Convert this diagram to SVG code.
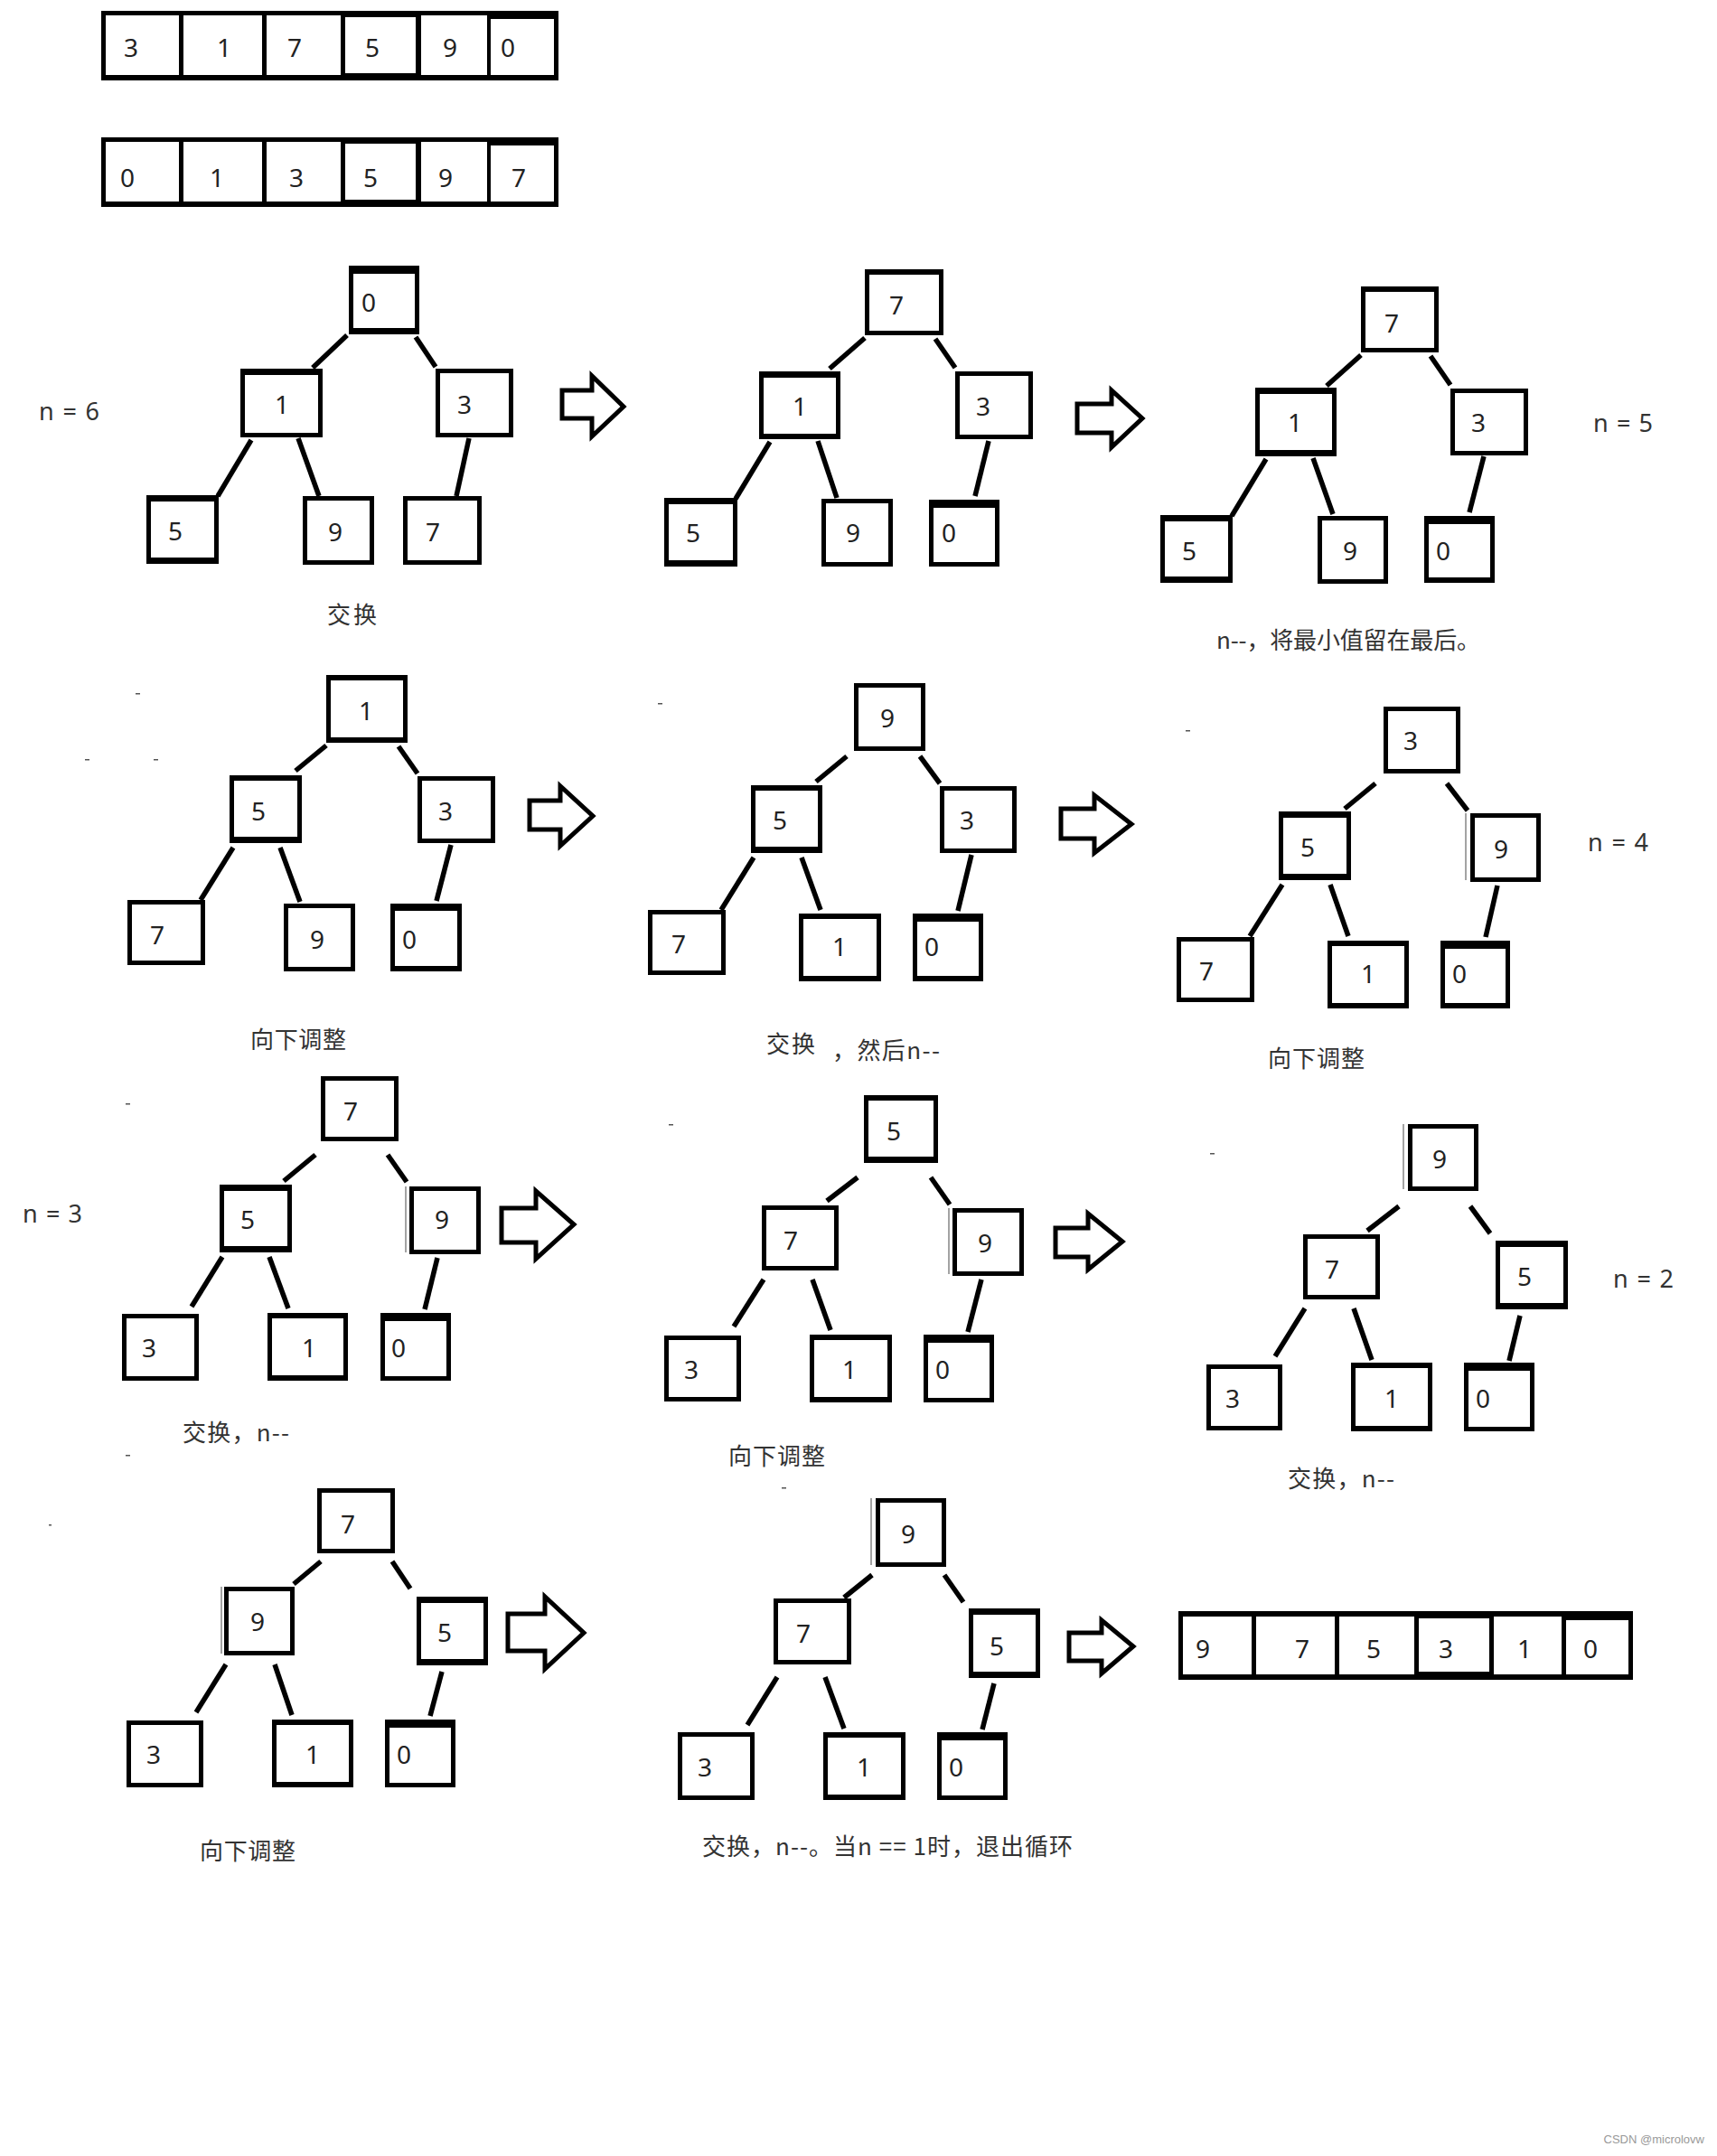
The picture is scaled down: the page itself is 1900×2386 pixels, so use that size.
<svg xmlns="http://www.w3.org/2000/svg" width="1900" height="2386" viewBox="0 0 1900 2386">
<style>
.b{fill:#000}
.w{fill:#fff}
.d{font-family:"Noto Sans","Open Sans",sans-serif;font-size:28px;fill:#222;text-anchor:middle}
.l{font-family:"Noto Sans CJK SC","Noto Sans",sans-serif;font-size:26px;fill:#333}
.n{font-family:"Noto Sans","Open Sans",sans-serif;font-size:27px;fill:#333}
.c line{stroke:#000;stroke-width:5.5}
.ar{fill:#fff;stroke:#000;stroke-width:5;stroke-linejoin:miter}
.h{stroke:#666;stroke-width:1.2}
.m{fill:#555}
</style>
<rect width="1900" height="2386" fill="#fff"/>

<g id="array1">
<rect class="b" x="112" y="12" width="506" height="77"/>
<rect class="w" x="117" y="17" width="81" height="66"/>
<rect class="w" x="203" y="17" width="87" height="66"/>
<rect class="w" x="295" y="17" width="82" height="66"/>
<rect class="w" x="382" y="19" width="78" height="62"/>
<rect class="w" x="466" y="17" width="73" height="66"/>
<rect class="w" x="543" y="21" width="70" height="62"/>
<text class="d" x="145" y="63">3</text><text class="d" x="248" y="63">1</text><text class="d" x="326" y="63">7</text><text class="d" x="412" y="63">5</text><text class="d" x="498" y="63">9</text><text class="d" x="562" y="63">0</text>
</g>
<g id="array2">
<rect class="b" x="112" y="152" width="506" height="77"/>
<rect class="w" x="117" y="157" width="81" height="66"/>
<rect class="w" x="203" y="157" width="87" height="66"/>
<rect class="w" x="295" y="157" width="82" height="66"/>
<rect class="w" x="382" y="159" width="78" height="62"/>
<rect class="w" x="466" y="157" width="73" height="66"/>
<rect class="w" x="543" y="161" width="70" height="62"/>
<text class="d" x="141" y="207">0</text><text class="d" x="240" y="207">1</text><text class="d" x="328" y="207">3</text><text class="d" x="410" y="207">5</text><text class="d" x="493" y="207">9</text><text class="d" x="574" y="207">7</text>
</g>

<g id="connectors" class="c">
<line x1="384" y1="371" x2="346" y2="407"/><line x1="460" y1="373" x2="482" y2="406"/><line x1="278" y1="487" x2="241" y2="549"/><line x1="330" y1="485" x2="353" y2="549"/><line x1="519" y1="485" x2="505" y2="549"/>
<line x1="957" y1="374" x2="918" y2="408"/><line x1="1035" y1="375" x2="1057" y2="407"/><line x1="852" y1="489" x2="814" y2="552"/><line x1="905" y1="488" x2="926" y2="551"/><line x1="1094" y1="488" x2="1079" y2="549"/>
<line x1="1506" y1="393" x2="1468" y2="427"/><line x1="1583" y1="394" x2="1605" y2="426"/><line x1="1401" y1="508" x2="1363" y2="571"/><line x1="1453" y1="507" x2="1475" y2="569"/><line x1="1642" y1="505" x2="1626" y2="567"/>
<line x1="361" y1="825" x2="327" y2="853"/><line x1="441" y1="826" x2="462" y2="856"/><line x1="258" y1="938" x2="222" y2="996"/><line x1="310" y1="938" x2="332" y2="998"/><line x1="499" y1="935" x2="483" y2="997"/>
<line x1="937" y1="837" x2="903" y2="865"/><line x1="1018" y1="837" x2="1040" y2="867"/><line x1="834" y1="949" x2="798" y2="1007"/><line x1="887" y1="949" x2="908" y2="1007"/><line x1="1075" y1="946" x2="1060" y2="1008"/>
<line x1="1522" y1="867" x2="1488" y2="895"/><line x1="1601" y1="867" x2="1624" y2="897"/><line x1="1419" y1="979" x2="1383" y2="1036"/><line x1="1472" y1="979" x2="1492" y2="1036"/><line x1="1657" y1="980" x2="1644" y2="1037"/>
<line x1="349" y1="1278" x2="314" y2="1307"/><line x1="429" y1="1278" x2="450" y2="1308"/><line x1="246" y1="1391" x2="212" y2="1446"/><line x1="298" y1="1391" x2="319" y2="1448"/><line x1="484" y1="1392" x2="470" y2="1449"/>
<line x1="949" y1="1303" x2="915" y2="1329"/><line x1="1030" y1="1303" x2="1051" y2="1333"/><line x1="845" y1="1416" x2="812" y2="1468"/><line x1="899" y1="1416" x2="919" y2="1472"/><line x1="1086" y1="1416" x2="1071" y2="1474"/>
<line x1="1548" y1="1335" x2="1513" y2="1362"/><line x1="1627" y1="1335" x2="1649" y2="1365"/><line x1="1444" y1="1448" x2="1411" y2="1501"/><line x1="1498" y1="1448" x2="1518" y2="1505"/><line x1="1682" y1="1456" x2="1670" y2="1506"/>
<line x1="355" y1="1728" x2="325" y2="1753"/><line x1="434" y1="1728" x2="454" y2="1758"/><line x1="250" y1="1842" x2="217" y2="1895"/><line x1="304" y1="1842" x2="323" y2="1898"/><line x1="489" y1="1850" x2="476" y2="1899"/>
<line x1="965" y1="1743" x2="934" y2="1768"/><line x1="1045" y1="1743" x2="1066" y2="1773"/><line x1="860" y1="1856" x2="827" y2="1909"/><line x1="913" y1="1856" x2="934" y2="1913"/><line x1="1100" y1="1863" x2="1087" y2="1914"/>
</g>

<g id="arrows">
<polygon class="ar" points="622,432 655,432 655,416 690,450 655,483 655,463 622,463"/>
<polygon class="ar" points="1192,447 1230,447 1230,432 1264,463 1230,495 1230,479 1192,479"/>
<polygon class="ar" points="586,886 620,886 620,870 656,903 620,936 620,918 586,918"/>
<polygon class="ar" points="1174,895 1211,895 1211,880 1252,912 1211,944 1211,928 1174,928"/>
<polygon class="ar" points="555,1337 593,1337 593,1318 635,1355 593,1393 593,1375 555,1375"/>
<polygon class="ar" points="1168,1359 1204,1359 1204,1343 1242,1374 1204,1405 1204,1391 1168,1391"/>
<polygon class="ar" points="562,1786 603,1786 603,1767 646,1807 603,1847 603,1827 562,1827"/>
<polygon class="ar" points="1183,1807 1219,1807 1219,1793 1254,1822 1219,1852 1219,1838 1183,1838"/>
</g>

<!-- tree 1 -->
<g id="t1-r"><rect class="b" x="386" y="294" width="78" height="76"/><rect class="w" x="391" y="303" width="68" height="60"/><text class="d" x="408" y="345">0</text></g>
<g id="t1-a"><rect class="b" x="266" y="408" width="91" height="76"/><rect class="w" x="271" y="415" width="81" height="64"/><text class="d" x="312" y="458">1</text></g>
<g id="t1-b"><rect class="b" x="482" y="408" width="86" height="76"/><rect class="w" x="487" y="413" width="76" height="66"/><text class="d" x="514" y="458">3</text></g>
<g id="t1-c"><rect class="b" x="162" y="548" width="80" height="76"/><rect class="w" x="167" y="555" width="70" height="62"/><text class="d" x="194" y="598">5</text></g>
<g id="t1-d"><rect class="b" x="335" y="549" width="79" height="76"/><rect class="w" x="340" y="554" width="69" height="66"/><text class="d" x="371" y="599">9</text></g>
<g id="t1-e"><rect class="b" x="446" y="549" width="87" height="76"/><rect class="w" x="451" y="554" width="77" height="66"/><text class="d" x="479" y="599">7</text></g>
<text class="n" x="43" y="465" textLength="67">n = 6</text>
<text class="l" x="362" y="690" textLength="55">交换</text>

<!-- tree 2 -->
<g id="t2-r"><rect class="b" x="957" y="298" width="87" height="73"/><rect class="w" x="962" y="304" width="77" height="62"/><text class="d" x="992" y="348">7</text></g>
<g id="t2-a"><rect class="b" x="840" y="411" width="90" height="75"/><rect class="w" x="845" y="418" width="80" height="62"/><text class="d" x="885" y="460">1</text></g>
<g id="t2-b"><rect class="b" x="1057" y="411" width="86" height="75"/><rect class="w" x="1062" y="416" width="76" height="65"/><text class="d" x="1088" y="460">3</text></g>
<g id="t2-c"><rect class="b" x="735" y="551" width="81" height="76"/><rect class="w" x="740" y="558" width="71" height="62"/><text class="d" x="767" y="600">5</text></g>
<g id="t2-d"><rect class="b" x="909" y="552" width="79" height="75"/><rect class="w" x="914" y="557" width="69" height="65"/><text class="d" x="944" y="600">9</text></g>
<g id="t2-e"><rect class="b" x="1028" y="553" width="78" height="74"/><rect class="w" x="1033" y="562" width="68" height="60"/><text class="d" x="1050" y="600">0</text></g>

<!-- tree 3 -->
<g id="t3-r"><rect class="b" x="1506" y="317" width="86" height="73"/><rect class="w" x="1511" y="323" width="76" height="62"/><text class="d" x="1540" y="368">7</text></g>
<g id="t3-a"><rect class="b" x="1389" y="429" width="90" height="76"/><rect class="w" x="1394" y="436" width="80" height="62"/><text class="d" x="1433" y="478">1</text></g>
<g id="t3-b"><rect class="b" x="1605" y="430" width="86" height="74"/><rect class="w" x="1610" y="435" width="76" height="64"/><text class="d" x="1636" y="478">3</text></g>
<g id="t3-c"><rect class="b" x="1284" y="570" width="80" height="75"/><rect class="w" x="1289" y="577" width="70" height="61"/><text class="d" x="1316" y="620">5</text></g>
<g id="t3-d"><rect class="b" x="1458" y="571" width="78" height="75"/><rect class="w" x="1463" y="576" width="68" height="65"/><text class="d" x="1494" y="620">9</text></g>
<g id="t3-e"><rect class="b" x="1576" y="571" width="78" height="74"/><rect class="w" x="1581" y="580" width="68" height="59"/><text class="d" x="1597" y="620">0</text></g>
<text class="n" x="1763" y="478" textLength="66">n = 5</text>
<text class="l" x="1346" y="718" textLength="292">n--，将最小值留在最后。</text>

<!-- tree 4 -->
<g id="t4-r"><rect class="b" x="361" y="747" width="90" height="75"/><rect class="w" x="366" y="753" width="80" height="63"/><text class="d" x="405" y="797">1</text></g>
<g id="t4-a"><rect class="b" x="254" y="858" width="80" height="75"/><rect class="w" x="259" y="864" width="70" height="62"/><text class="d" x="286" y="908">5</text></g>
<g id="t4-b"><rect class="b" x="462" y="859" width="86" height="74"/><rect class="w" x="467" y="864" width="76" height="64"/><text class="d" x="493" y="908">3</text></g>
<g id="t4-c"><rect class="b" x="141" y="996" width="86" height="72"/><rect class="w" x="146" y="1001" width="76" height="62"/><text class="d" x="174" y="1045">7</text></g>
<g id="t4-d"><rect class="b" x="314" y="1000" width="79" height="75"/><rect class="w" x="319" y="1005" width="69" height="65"/><text class="d" x="351" y="1050">9</text></g>
<g id="t4-e"><rect class="b" x="432" y="1000" width="79" height="75"/><rect class="w" x="437" y="1008" width="69" height="61"/><text class="d" x="453" y="1050">0</text></g>
<text class="l" x="277" y="1160" textLength="106">向下调整</text>

<!-- tree 5 -->
<g id="t5-r"><rect class="b" x="945" y="756" width="79" height="75"/><rect class="w" x="950" y="761" width="69" height="65"/><text class="d" x="982" y="805">9</text></g>
<g id="t5-a"><rect class="b" x="831" y="869" width="79" height="75"/><rect class="w" x="836" y="875" width="69" height="62"/><text class="d" x="863" y="918">5</text></g>
<g id="t5-b"><rect class="b" x="1040" y="870" width="85" height="74"/><rect class="w" x="1045" y="875" width="75" height="64"/><text class="d" x="1070" y="918">3</text></g>
<g id="t5-c"><rect class="b" x="717" y="1007" width="86" height="72"/><rect class="w" x="722" y="1012" width="76" height="62"/><text class="d" x="751" y="1055">7</text></g>
<g id="t5-d"><rect class="b" x="884" y="1011" width="91" height="75"/><rect class="w" x="889" y="1017" width="81" height="63"/><text class="d" x="929" y="1058">1</text></g>
<g id="t5-e"><rect class="b" x="1010" y="1011" width="78" height="75"/><rect class="w" x="1015" y="1020" width="68" height="60"/><text class="d" x="1031" y="1058">0</text></g>
<text class="l" x="848" y="1165" textLength="54">交换</text>
<text class="l" x="921" y="1172" textLength="119">，然后n--</text>

<!-- tree 6 -->
<g id="t6-r"><rect class="b" x="1531" y="782" width="85" height="74"/><rect class="w" x="1536" y="787" width="75" height="64"/><text class="d" x="1561" y="830">3</text></g>
<g id="t6-a"><rect class="b" x="1415" y="898" width="80" height="76"/><rect class="w" x="1420" y="905" width="70" height="62"/><text class="d" x="1447" y="948">5</text></g>
<g id="t6-b"><rect class="b" x="1627" y="900" width="78" height="76"/><rect class="w" x="1632" y="905" width="68" height="66"/><line class="h" x1="1622" y1="900" x2="1622" y2="974"/><text class="d" x="1661" y="950">9</text></g>
<g id="t6-c"><rect class="b" x="1302" y="1037" width="86" height="72"/><rect class="w" x="1307" y="1042" width="76" height="62"/><text class="d" x="1335" y="1085">7</text></g>
<g id="t6-d"><rect class="b" x="1469" y="1041" width="90" height="75"/><rect class="w" x="1474" y="1047" width="80" height="63"/><text class="d" x="1514" y="1088">1</text></g>
<g id="t6-e"><rect class="b" x="1594" y="1041" width="77" height="75"/><rect class="w" x="1599" y="1050" width="67" height="60"/><text class="d" x="1615" y="1088">0</text></g>
<text class="n" x="1757" y="942" textLength="67">n = 4</text>
<text class="l" x="1403" y="1181" textLength="107">向下调整</text>

<!-- tree 7 -->
<g id="t7-r"><rect class="b" x="355" y="1191" width="86" height="72"/><rect class="w" x="360" y="1196" width="76" height="62"/><text class="d" x="388" y="1240">7</text></g>
<g id="t7-a"><rect class="b" x="243" y="1311" width="80" height="75"/><rect class="w" x="248" y="1318" width="70" height="61"/><text class="d" x="274" y="1360">5</text></g>
<g id="t7-b"><rect class="b" x="453" y="1313" width="79" height="75"/><rect class="w" x="458" y="1318" width="69" height="65"/><line class="h" x1="449" y1="1313" x2="449" y2="1386"/><text class="d" x="489" y="1360">9</text></g>
<g id="t7-c"><rect class="b" x="135" y="1454" width="85" height="74"/><rect class="w" x="140" y="1459" width="75" height="64"/><text class="d" x="165" y="1502">3</text></g>
<g id="t7-d"><rect class="b" x="296" y="1453" width="89" height="75"/><rect class="w" x="301" y="1459" width="79" height="63"/><text class="d" x="342" y="1502">1</text></g>
<g id="t7-e"><rect class="b" x="421" y="1453" width="78" height="75"/><rect class="w" x="426" y="1462" width="68" height="61"/><text class="d" x="441" y="1502">0</text></g>
<text class="n" x="25" y="1353" textLength="66">n = 3</text>
<text class="l" x="202" y="1595" textLength="118">交换，n--</text>

<!-- tree 8 -->
<g id="t8-r"><rect class="b" x="956" y="1212" width="82" height="75"/><rect class="w" x="961" y="1218" width="72" height="62"/><text class="d" x="989" y="1262">5</text></g>
<g id="t8-a"><rect class="b" x="843" y="1334" width="85" height="72"/><rect class="w" x="848" y="1339" width="75" height="62"/><text class="d" x="875" y="1383">7</text></g>
<g id="t8-b"><rect class="b" x="1054" y="1337" width="79" height="75"/><rect class="w" x="1059" y="1342" width="69" height="65"/><line class="h" x1="1050" y1="1337" x2="1050" y2="1410"/><text class="d" x="1090" y="1386">9</text></g>
<g id="t8-c"><rect class="b" x="735" y="1478" width="85" height="73"/><rect class="w" x="740" y="1483" width="75" height="63"/><text class="d" x="765" y="1526">3</text></g>
<g id="t8-d"><rect class="b" x="896" y="1477" width="91" height="75"/><rect class="w" x="901" y="1483" width="81" height="63"/><text class="d" x="940" y="1526">1</text></g>
<g id="t8-e"><rect class="b" x="1022" y="1477" width="78" height="75"/><rect class="w" x="1027" y="1486" width="68" height="61"/><text class="d" x="1043" y="1526">0</text></g>
<text class="l" x="806" y="1621" textLength="107">向下调整</text>

<!-- tree 9 -->
<g id="t9-r"><rect class="b" x="1558" y="1244" width="78" height="74"/><rect class="w" x="1563" y="1249" width="68" height="64"/><line class="h" x1="1553" y1="1244" x2="1553" y2="1316"/><text class="d" x="1593" y="1293">9</text></g>
<g id="t9-a"><rect class="b" x="1442" y="1366" width="85" height="72"/><rect class="w" x="1447" y="1371" width="75" height="62"/><text class="d" x="1474" y="1415">7</text></g>
<g id="t9-b"><rect class="b" x="1655" y="1373" width="80" height="76"/><rect class="w" x="1660" y="1380" width="70" height="62"/><text class="d" x="1687" y="1423">5</text></g>
<g id="t9-c"><rect class="b" x="1335" y="1510" width="84" height="73"/><rect class="w" x="1340" y="1515" width="74" height="63"/><text class="d" x="1364" y="1558">3</text></g>
<g id="t9-d"><rect class="b" x="1495" y="1508" width="90" height="76"/><rect class="w" x="1500" y="1514" width="80" height="64"/><text class="d" x="1540" y="1558">1</text></g>
<g id="t9-e"><rect class="b" x="1620" y="1508" width="78" height="76"/><rect class="w" x="1625" y="1517" width="68" height="62"/><text class="d" x="1641" y="1558">0</text></g>
<text class="n" x="1785" y="1425" textLength="67">n = 2</text>
<text class="l" x="1425" y="1646" textLength="118">交换，n--</text>

<!-- tree 10 -->
<g id="t10-r"><rect class="b" x="351" y="1647" width="86" height="72"/><rect class="w" x="356" y="1652" width="76" height="62"/><text class="d" x="385" y="1697">7</text></g>
<g id="t10-a"><rect class="b" x="248" y="1756" width="78" height="76"/><rect class="w" x="253" y="1761" width="68" height="66"/><line class="h" x1="245" y1="1756" x2="245" y2="1830"/><text class="d" x="285" y="1805">9</text></g>
<g id="t10-b"><rect class="b" x="461" y="1767" width="79" height="76"/><rect class="w" x="466" y="1774" width="69" height="62"/><text class="d" x="492" y="1817">5</text></g>
<g id="t10-c"><rect class="b" x="140" y="1904" width="85" height="74"/><rect class="w" x="145" y="1909" width="75" height="64"/><text class="d" x="170" y="1952">3</text></g>
<g id="t10-d"><rect class="b" x="301" y="1903" width="90" height="75"/><rect class="w" x="306" y="1909" width="80" height="63"/><text class="d" x="346" y="1952">1</text></g>
<g id="t10-e"><rect class="b" x="426" y="1903" width="78" height="75"/><rect class="w" x="431" y="1912" width="68" height="61"/><text class="d" x="447" y="1952">0</text></g>
<text class="l" x="221" y="2058" textLength="106">向下调整</text>

<!-- tree 11 -->
<g id="t11-r"><rect class="b" x="969" y="1658" width="78" height="76"/><rect class="w" x="974" y="1663" width="68" height="66"/><line class="h" x1="964" y1="1658" x2="964" y2="1732"/><text class="d" x="1005" y="1708">9</text></g>
<g id="t11-a"><rect class="b" x="856" y="1769" width="86" height="73"/><rect class="w" x="861" y="1774" width="76" height="63"/><text class="d" x="889" y="1818">7</text></g>
<g id="t11-b"><rect class="b" x="1072" y="1780" width="79" height="77"/><rect class="w" x="1077" y="1787" width="69" height="63"/><text class="d" x="1103" y="1832">5</text></g>
<g id="t11-c"><rect class="b" x="750" y="1917" width="85" height="75"/><rect class="w" x="755" y="1922" width="75" height="65"/><text class="d" x="780" y="1966">3</text></g>
<g id="t11-d"><rect class="b" x="911" y="1917" width="91" height="75"/><rect class="w" x="916" y="1923" width="81" height="63"/><text class="d" x="956" y="1966">1</text></g>
<g id="t11-e"><rect class="b" x="1037" y="1917" width="78" height="75"/><rect class="w" x="1042" y="1926" width="68" height="61"/><text class="d" x="1058" y="1966">0</text></g>
<text class="l" x="777" y="2053" textLength="410">交换，n--。当n == 1时，退出循环</text>

<g id="array3">
<rect class="b" x="1304" y="1783" width="503" height="76"/>
<rect class="w" x="1309" y="1789" width="76" height="64"/>
<rect class="w" x="1390" y="1789" width="87" height="64"/>
<rect class="w" x="1482" y="1789" width="83" height="64"/>
<rect class="w" x="1570" y="1791" width="78" height="59"/>
<rect class="w" x="1653" y="1789" width="75" height="64"/>
<rect class="w" x="1733" y="1793" width="69" height="60"/>
<text class="d" x="1331" y="1835">9</text><text class="d" x="1441" y="1835">7</text><text class="d" x="1520" y="1835">5</text><text class="d" x="1600" y="1835">3</text><text class="d" x="1687" y="1835">1</text><text class="d" x="1760" y="1835">0</text>
</g>

<g id="marks">
<rect class="m" x="150" y="767" width="5" height="1.5"/>
<rect class="m" x="94" y="840" width="5" height="1.5"/>
<rect class="m" x="170" y="840" width="5" height="1.5"/>
<rect class="m" x="728" y="778" width="5" height="1.5"/>
<rect class="m" x="1312" y="808" width="5" height="1.5"/>
<rect class="m" x="139" y="1221" width="5" height="1.5"/>
<rect class="m" x="139" y="1610" width="5" height="1.5"/>
<rect class="m" x="740" y="1244" width="5" height="1.5"/>
<rect class="m" x="1339" y="1276" width="5" height="1.5"/>
<rect class="m" x="865" y="1646" width="5" height="1.5"/>
<rect class="m" x="54" y="1687" width="3" height="1.5"/>
</g>

<text x="1886" y="2372" text-anchor="end" style="font-family:'Liberation Sans',sans-serif;font-size:13px;fill:#999">CSDN @microlovw</text>
</svg>
